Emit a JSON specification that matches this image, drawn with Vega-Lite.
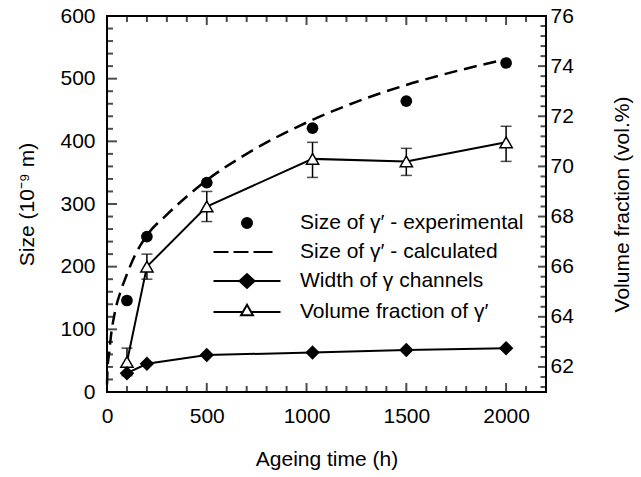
{
  "$schema": "https://vega.github.io/schema/vega-lite/v6.json",
  "width": 439,
  "height": 376,
  "autosize": {"type": "none"},
  "padding": {"left": 107, "top": 16, "right": 95, "bottom": 85},
  "background": "white",
  "config": {
    "font": "Liberation Sans",
    "view": {"stroke": "black", "strokeWidth": 2},
    "axis": {
      "domain": false,
      "ticks": false,
      "grid": false,
      "labelColor": "black", "titleColor": "black",
      "labelFontSize": 21, "titleFontSize": 21, "titleFontWeight": "normal",
      "labelFont": "Liberation Sans", "titleFont": "Liberation Sans",
      "labelOverlap": false, "labelFlush": false
    }
  },
  "datasets": {
    "main": [
      {"t": 100, "exp": 146, "width": 30, "vf": 62.2, "vf_lo": 61.65, "vf_hi": 62.75},
      {"t": 200, "exp": 248, "width": 45, "vf": 66.0, "vf_lo": 65.5, "vf_hi": 66.5},
      {"t": 500, "exp": 334, "width": 59, "vf": 68.4, "vf_lo": 67.8, "vf_hi": 69.0},
      {"t": 1030, "exp": 421, "width": 63, "vf": 70.3, "vf_lo": 69.56, "vf_hi": 70.96},
      {"t": 1500, "exp": 464, "width": 67, "vf": 70.2, "vf_lo": 69.64, "vf_hi": 70.72},
      {"t": 2000, "exp": 525, "width": 70, "vf": 70.96, "vf_lo": 70.2, "vf_hi": 71.6}
    ],
    "calc": [
      {"t": 0, "size": 12}, {"t": 3, "size": 40}, {"t": 10, "size": 60}, {"t": 20, "size": 90},
      {"t": 40, "size": 128}, {"t": 70, "size": 162}, {"t": 100, "size": 188}, {"t": 140, "size": 218},
      {"t": 200, "size": 250}, {"t": 300, "size": 283}, {"t": 400, "size": 312}, {"t": 500, "size": 338},
      {"t": 700, "size": 380}, {"t": 1000, "size": 430}, {"t": 1250, "size": 463}, {"t": 1500, "size": 490},
      {"t": 1750, "size": 512}, {"t": 2000, "size": 531}
    ],
    "legend": [
      {"series": "Size of \u03b3\u2032 - experimental"},
      {"series": "Size of \u03b3\u2032 - calculated"},
      {"series": "Width of \u03b3 channels"},
      {"series": "Volume fraction of \u03b3\u2032"}
    ],
    "xmaj": [{"v": 500}, {"v": 1000}, {"v": 1500}, {"v": 2000}],
    "xmin": [{"v": 100}, {"v": 200}, {"v": 300}, {"v": 400}, {"v": 600}, {"v": 700}, {"v": 800}, {"v": 900},
             {"v": 1100}, {"v": 1200}, {"v": 1300}, {"v": 1400}, {"v": 1600}, {"v": 1700}, {"v": 1800}, {"v": 1900}, {"v": 2100}],
    "ymaj": [{"v": 100}, {"v": 200}, {"v": 300}, {"v": 400}, {"v": 500}],
    "ymin": [{"v": 20}, {"v": 40}, {"v": 60}, {"v": 80}, {"v": 120}, {"v": 140}, {"v": 160}, {"v": 180},
             {"v": 220}, {"v": 240}, {"v": 260}, {"v": 280}, {"v": 320}, {"v": 340}, {"v": 360}, {"v": 380},
             {"v": 420}, {"v": 440}, {"v": 460}, {"v": 480}, {"v": 520}, {"v": 540}, {"v": 560}, {"v": 580}],
    "rmaj": [{"v": 62}, {"v": 64}, {"v": 66}, {"v": 68}, {"v": 70}, {"v": 72}, {"v": 74}],
    "rmin": [{"v": 61.2}, {"v": 61.6}, {"v": 62.4}, {"v": 62.8}, {"v": 63.2}, {"v": 63.6}, {"v": 64.4}, {"v": 64.8},
             {"v": 65.2}, {"v": 65.6}, {"v": 66.4}, {"v": 66.8}, {"v": 67.2}, {"v": 67.6}, {"v": 68.4}, {"v": 68.8},
             {"v": 69.2}, {"v": 69.6}, {"v": 70.4}, {"v": 70.8}, {"v": 71.2}, {"v": 71.6}, {"v": 72.4}, {"v": 72.8},
             {"v": 73.2}, {"v": 73.6}, {"v": 74.4}, {"v": 74.8}, {"v": 75.2}, {"v": 75.6}]
  },
  "layer": [
    {
      "layer": [
        {
          "data": {"name": "main"},
          "mark": {"type": "line", "color": "black", "strokeWidth": 2},
          "encoding": {
            "x": {"field": "t", "type": "quantitative", "scale": {"domain": [0, 2200], "nice": false, "zero": false}, "axis": null},
            "y": {"field": "vf", "type": "quantitative", "scale": {"domain": [61, 76], "nice": false, "zero": false},
              "axis": {"orient": "right", "title": "Volume fraction (vol.%)", "titleAngle": 270, "titleBaseline": "top", "titlePadding": 38, "format": "d", "labelPadding": 4, "tickCount": 1000,
                "values": [62,64,66,68,70,72,74,76]}}
          }
        },
        {
          "data": {"name": "main"},
          "mark": {"type": "rule", "color": "black", "strokeWidth": 1.5},
          "encoding": {
            "x": {"field": "t", "type": "quantitative", "axis": null},
            "y": {"field": "vf_lo", "type": "quantitative", "title": "Volume fraction (vol.%)"},
            "y2": {"field": "vf_hi"}
          }
        },
        {
          "data": {"name": "main"},
          "mark": {"type": "tick", "orient": "horizontal", "color": "black", "size": 11, "thickness": 1.5},
          "encoding": {
            "x": {"field": "t", "type": "quantitative", "axis": null},
            "y": {"field": "vf_lo", "type": "quantitative", "title": "Volume fraction (vol.%)"}
          }
        },
        {
          "data": {"name": "main"},
          "mark": {"type": "tick", "orient": "horizontal", "color": "black", "size": 11, "thickness": 1.5},
          "encoding": {
            "x": {"field": "t", "type": "quantitative", "axis": null},
            "y": {"field": "vf_hi", "type": "quantitative", "title": "Volume fraction (vol.%)"}
          }
        },
        {
          "data": {"name": "main"},
          "mark": {"type": "point", "shape": "triangle-up", "filled": true, "fill": "white", "stroke": "black", "strokeWidth": 1.5, "size": 150, "opacity": 1},
          "encoding": {
            "x": {"field": "t", "type": "quantitative", "axis": null},
            "y": {"field": "vf", "type": "quantitative", "title": "Volume fraction (vol.%)"}
          }
        },
        {
          "data": {"name": "rmaj"},
          "mark": {"type": "tick", "orient": "horizontal", "color": "black", "size": 16, "thickness": 2, "clip": true},
          "encoding": {
            "x": {"datum": 2200, "type": "quantitative", "axis": null},
            "y": {"field": "v", "type": "quantitative", "title": "Volume fraction (vol.%)"}
          }
        },
        {
          "data": {"name": "rmin"},
          "mark": {"type": "tick", "orient": "horizontal", "color": "black", "size": 11, "thickness": 2, "clip": true},
          "encoding": {
            "x": {"datum": 2200, "type": "quantitative", "axis": null},
            "y": {"field": "v", "type": "quantitative", "title": "Volume fraction (vol.%)"}
          }
        }
      ]
    },
    {
      "layer": [
        {
          "data": {"name": "calc"},
          "mark": {"type": "line", "color": "black", "strokeWidth": 2.5, "strokeDash": [13, 7], "interpolate": "monotone"},
          "encoding": {
            "x": {"field": "t", "type": "quantitative", "scale": {"domain": [0, 2200], "nice": false, "zero": false},
              "axis": {"orient": "bottom", "title": "Ageing time (h)", "titlePadding": 22, "format": "d", "labelPadding": 13, "tickCount": 1000,
                "values": [0,500,1000,1500,2000]}},
            "y": {"field": "size", "type": "quantitative", "scale": {"domain": [0, 600], "nice": false},
              "axis": {"orient": "left", "title": "Size (10\u207b\u2079 m)", "titlePadding": 22, "format": "d", "labelPadding": 12, "tickCount": 1000,
                "values": [0,100,200,300,400,500,600]}}
          }
        },
        {
          "data": {"name": "main"},
          "mark": {"type": "point", "shape": "circle", "filled": true, "color": "black", "size": 137, "opacity": 1},
          "encoding": {
            "x": {"field": "t", "type": "quantitative", "title": "Ageing time (h)"},
            "y": {"field": "exp", "type": "quantitative", "title": "Size (10\u207b\u2079 m)"}
          }
        },
        {
          "data": {"name": "main"},
          "mark": {"type": "line", "color": "black", "strokeWidth": 2},
          "encoding": {
            "x": {"field": "t", "type": "quantitative", "title": "Ageing time (h)"},
            "y": {"field": "width", "type": "quantitative", "title": "Size (10\u207b\u2079 m)"}
          }
        },
        {
          "data": {"name": "main"},
          "mark": {"type": "point", "shape": "diamond", "filled": true, "color": "black", "size": 210, "opacity": 1},
          "encoding": {
            "x": {"field": "t", "type": "quantitative", "title": "Ageing time (h)"},
            "y": {"field": "width", "type": "quantitative", "title": "Size (10\u207b\u2079 m)"}
          }
        },
        {
          "data": {"name": "xmaj"},
          "mark": {"type": "tick", "orient": "vertical", "color": "black", "size": 18, "thickness": 2, "clip": true},
          "encoding": {
            "x": {"field": "v", "type": "quantitative", "title": "Ageing time (h)"},
            "y": {"datum": 0, "type": "quantitative", "title": "Size (10\u207b\u2079 m)"}
          }
        },
        {
          "data": {"name": "xmaj"},
          "mark": {"type": "tick", "orient": "vertical", "color": "black", "size": 18, "thickness": 2, "clip": true},
          "encoding": {
            "x": {"field": "v", "type": "quantitative", "title": "Ageing time (h)"},
            "y": {"datum": 600, "type": "quantitative", "title": "Size (10\u207b\u2079 m)"}
          }
        },
        {
          "data": {"name": "xmin"},
          "mark": {"type": "tick", "orient": "vertical", "color": "black", "size": 12, "thickness": 2, "clip": true},
          "encoding": {
            "x": {"field": "v", "type": "quantitative", "title": "Ageing time (h)"},
            "y": {"datum": 0, "type": "quantitative", "title": "Size (10\u207b\u2079 m)"}
          }
        },
        {
          "data": {"name": "xmin"},
          "mark": {"type": "tick", "orient": "vertical", "color": "black", "size": 12, "thickness": 2, "clip": true},
          "encoding": {
            "x": {"field": "v", "type": "quantitative", "title": "Ageing time (h)"},
            "y": {"datum": 600, "type": "quantitative", "title": "Size (10\u207b\u2079 m)"}
          }
        },
        {
          "data": {"name": "ymaj"},
          "mark": {"type": "tick", "orient": "horizontal", "color": "black", "size": 20, "thickness": 2, "clip": true},
          "encoding": {
            "x": {"datum": 0, "type": "quantitative", "title": "Ageing time (h)"},
            "y": {"field": "v", "type": "quantitative", "title": "Size (10\u207b\u2079 m)"}
          }
        },
        {
          "data": {"name": "ymin"},
          "mark": {"type": "tick", "orient": "horizontal", "color": "black", "size": 12, "thickness": 2, "clip": true},
          "encoding": {
            "x": {"datum": 0, "type": "quantitative", "title": "Ageing time (h)"},
            "y": {"field": "v", "type": "quantitative", "title": "Size (10\u207b\u2079 m)"}
          }
        },
        {
          "data": {"name": "legend"},
          "mark": {"type": "point", "opacity": 0, "strokeWidth": 2},
          "encoding": {
            "shape": {"field": "series", "type": "nominal",
              "scale": {
                "domain": ["Size of \u03b3\u2032 - experimental", "Size of \u03b3\u2032 - calculated", "Width of \u03b3 channels", "Volume fraction of \u03b3\u2032"],
                "range": [
                  "M0.5,0A0.5,0.5,0,1,1,-0.5,0A0.5,0.5,0,1,1,0.5,0Z",
                  "M-3.35,0H-1.85M-1.35,0H0.15M0.65,0H2.55",
                  "M-3.35,0H3.35M-0.75,0L0,-0.7L0.75,0L0,0.7Z",
                  "M-3.35,0H-0.41M0.41,0H3.35M0,-0.73L0.6,0.33L-0.6,0.33Z"
                ]
              },
              "legend": {"title": null, "orient": "none", "legendX": 129, "legendY": 196, "symbolSize": 400,
                "symbolStrokeWidth": 2, "symbolOpacity": 1,
                "labelFontSize": 21, "labelFont": "Liberation Sans", "labelColor": "black", "labelOffset": 42,
                "rowPadding": 8, "padding": 0, "labelLimit": 400}
            },
            "fill": {"field": "series", "type": "nominal",
              "scale": {
                "domain": ["Size of \u03b3\u2032 - experimental", "Size of \u03b3\u2032 - calculated", "Width of \u03b3 channels", "Volume fraction of \u03b3\u2032"],
                "range": ["black", "transparent", "black", "white"]
              },
              "legend": {"title": null, "orient": "none", "legendX": 129, "legendY": 196, "symbolSize": 400,
                "symbolStrokeWidth": 2, "symbolOpacity": 1,
                "labelFontSize": 21, "labelFont": "Liberation Sans", "labelColor": "black", "labelOffset": 42,
                "rowPadding": 8, "padding": 0, "labelLimit": 400}
            },
            "stroke": {"field": "series", "type": "nominal",
              "scale": {
                "domain": ["Size of \u03b3\u2032 - experimental", "Size of \u03b3\u2032 - calculated", "Width of \u03b3 channels", "Volume fraction of \u03b3\u2032"],
                "range": ["black", "black", "black", "black"]
              },
              "legend": {"title": null, "orient": "none", "legendX": 129, "legendY": 196, "symbolSize": 400,
                "symbolStrokeWidth": 2, "symbolOpacity": 1,
                "labelFontSize": 21, "labelFont": "Liberation Sans", "labelColor": "black", "labelOffset": 42,
                "rowPadding": 8, "padding": 0, "labelLimit": 400}
            }
          }
        }
      ]
    }
  ],
  "resolve": {"scale": {"y": "independent"}, "axis": {"x": "independent"}}
}
